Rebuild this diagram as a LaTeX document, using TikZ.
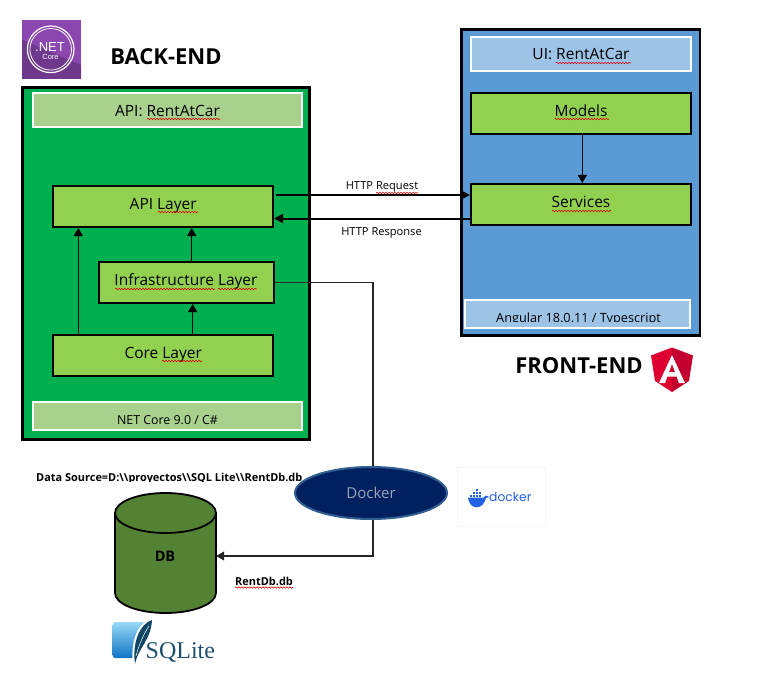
\documentclass[tikz,border=0pt]{standalone}
\usepackage{fontspec}
\setmainfont{Open Sans}
\newfontfamily\logoserif{Liberation Serif}
\newfontfamily\logosans{Liberation Sans}
\newfontfamily\dockerfont{Poppins}
\usetikzlibrary{arrows.meta,decorations.pathmorphing,positioning,calc,shapes.geometric}
\definecolor{bgreen}{HTML}{00B050}
\definecolor{lgreen}{HTML}{92D050}
\definecolor{pgreen}{HTML}{A9D18E}
\definecolor{fblue}{HTML}{5B9BD5}
\definecolor{pblue}{HTML}{9DC3E6}
\definecolor{navy}{HTML}{002060}
\definecolor{dockedge}{HTML}{325F91}
\definecolor{dbgreen}{HTML}{548235}
\definecolor{dockblue}{HTML}{2560E8}
\definecolor{netlight}{HTML}{8B46B0}
\definecolor{netdark}{HTML}{6E388C}
\definecolor{angred}{HTML}{DD0031}
\definecolor{angdark}{HTML}{C3002F}
\definecolor{sqlink}{HTML}{1E506E}
\definecolor{sqtop}{HTML}{97D9F6}
\definecolor{sqbot}{HTML}{0F74C4}
\definecolor{sqfeather}{HTML}{0F4664}
\definecolor{squigred}{HTML}{E00000}
\definecolor{dockertext}{HTML}{9DA6B8}
\tikzset{
  x=1pt,y=-1pt,
  panel/.style={draw=black,line width=2.5pt,inner sep=0pt},
  titlebar/.style={draw=white,line width=2pt,inner sep=0pt,text depth=0pt,font=\fontsize{15.5}{17}\selectfont},
  layerbox/.style={draw=black,line width=2pt,fill=lgreen,inner sep=0pt,text height=11pt,text depth=5pt,font=\fontsize{15.5}{17}\selectfont},
  thick link/.style={line width=2pt,-{Triangle[length=9pt,width=9pt]}},
  mid link/.style={line width=1.2pt,-{Triangle[length=8pt,width=9pt]}},
  squig/.style={draw=squigred,line width=.6pt,decorate,decoration={snake,amplitude=.7pt,segment length=3pt}},
  smalllabel/.style={inner sep=0pt,font=\fontsize{11.1}{13}\selectfont},
  boldlabel/.style={inner sep=0pt,font=\fontsize{10.95}{13}\selectfont\bfseries},
  headline/.style={inner sep=0pt,font=\fontsize{22}{25}\selectfont\bfseries},
}
\begin{document}
\begin{tikzpicture}
\useasboundingbox (0,0) rectangle (782,682);
% back-end
\node[panel,fill=bgreen,minimum width=287pt,minimum height=352pt] (back) at (166,263.4) {};
\node[titlebar,text height=14pt,fill=pgreen,minimum width=269pt,minimum height=34pt] (apititle) at (167.5,110) {API: RentAtCar};
\node[layerbox,minimum width=219.7pt,minimum height=41pt] (api) at (163.2,206.5) {API Layer};
\node[layerbox,minimum width=175pt,minimum height=41pt] (infra) at (186,282.5) {Infrastructure Layer};
\node[layerbox,minimum width=219.7pt,minimum height=41pt] (core) at (163.2,355.5) {Core Layer};
\node[titlebar,text height=16pt,fill=pgreen,minimum width=269pt,minimum height=28pt,font=\fontsize{12.4}{14}\selectfont] (nettitle) at (167.5,416) {NET Core 9.0 / C\#};
% front-end
\node[panel,fill=fblue,minimum width=238.7pt,minimum height=306.4pt] (front) at (580.6,182.5) {};
\node[titlebar,text height=12pt,fill=pblue,minimum width=220pt,minimum height=34pt] (uititle) at (581,54) {UI: RentAtCar};
\node[layerbox,minimum width=220pt,minimum height=41pt] (models) at (581,113.5) {Models};
\node[layerbox,minimum width=220pt,minimum height=41pt] (services) at (581,204.5) {Services};
\node[titlebar,fill=pblue,minimum width=225pt,minimum height=28pt] (angtitle) at (577.5,314) {};
\begin{scope}
\clip (466,301) rectangle (689,321.8);
\node[inner sep=0pt,font=\fontsize{12.7}{14}\selectfont,anchor=base] (angtext) at (578.5,322) {Angular 18.0.11 / Typescript};
\end{scope}
% links inside
\coordinate (leftx) at (78.3,0);
\coordinate (midx) at (191.7,0);
\coordinate (corex) at (192.7,0);
\coordinate (modx) at (582.3,0);
\draw[mid link] (core.north -| leftx) -- (api.south -| leftx);
\draw[mid link] (infra.north -| midx) -- (api.south -| midx);
\draw[mid link] (core.north -| corex) -- (infra.south -| corex);
\draw[mid link] (models.south -| modx) -- (services.north -| modx);
% http
\coordinate (reqy) at (0,195);
\coordinate (resy) at (0,218.5);
\coordinate (reqstart) at (276,195);
\draw[thick link] (reqstart) -- (services.west |- reqy);
\draw[thick link] (services.west |- resy) -- (api.east |- resy);
\node[smalllabel] (reqlab) at (382,187) {HTTP Request};
\node[smalllabel] (reslab) at (381.5,233) {HTTP Response};
% DB
\draw[line width=1.8pt,fill=dbgreen] (115,513) -- (115,593) arc[start angle=180,end angle=360,x radius=50.5pt,y radius=20pt] -- (216,513) arc[start angle=0,end angle=180,x radius=50.5pt,y radius=20pt] -- cycle;
\draw[line width=1.8pt] (115,513) arc[start angle=180,end angle=360,x radius=50.5pt,y radius=20pt];
\node[inner sep=0pt,minimum width=101pt,minimum height=120pt] (db) at (165.5,553) {};
\node[inner sep=0pt,font=\fontsize{14.5}{16}\selectfont\bfseries] (dblab) at (165,556) {DB};
% infra to db through docker
\coordinate (bend2) at (373,556);
\draw[line width=1.1pt,black!85,-{Triangle[length=8pt,width=9pt]}] (infra.east) -| (bend2) -- (db.east |- bend2);
\node[ellipse,draw=dockedge,line width=2pt,fill=navy,text=dockertext,minimum width=152pt,minimum height=52pt,inner sep=0pt,font=\fontsize{15}{17}\selectfont] (docker) at (371,493) {Docker};
% docker logo
\node[draw=black!4,line width=.8pt,fill=white,minimum width=88pt,minimum height=59pt,inner sep=0pt] (dlogo) at (501,496.5) {};
\fill[dockblue] (468,497.5) .. controls (469,510) and (483,511) .. (486,498) .. controls (487,497.5) and (488,497.5) .. (489,497) .. controls (488,495.5) and (486,495.5) .. (485,496) -- (484,497.5) -- cycle;
\foreach \cx/\cy in {470/494.5,473/494.5,476/494.5,479/494.5,473/491.5,476/491.5,479/491.5,476/488.5}{\fill[dockblue] (\cx,\cy) rectangle ++(2.4,2.4);}
\node[inner sep=0pt,text=dockblue,font=\dockerfont\fontsize{12.3}{15}\selectfont,anchor=west] (dtext) at (489,497) {docker};
% texts
\node[headline] (backhead) at (166,57) {BACK-END};
\node[headline] (fronthead) at (579,366) {FRONT-END};
\begin{scope}
\clip (30,465) rectangle (305,481);
\node[boldlabel,anchor=base west] (dsource) at (36,481) {Data Source=D:\textbackslash\textbackslash proyectos\textbackslash\textbackslash SQL Lite\textbackslash\textbackslash RentDb.db};
\end{scope}
\node[boldlabel,anchor=base west] (rentdb) at (235,585) {RentDb.db};
% .NET logo
\fill[netlight] (22,20) rectangle (81,79);
\fill[netdark] (22,40) -- (81,65) -- (81,79) -- (22,79) -- cycle;
\draw[white,line width=1.2pt] (50.7,49.3) circle (23.3);
\draw[white,line width=.8pt] (50.7,49.3) circle (20.8);
\node[inner sep=0pt,text=white,font=\logosans\fontsize{13}{14}\selectfont] (netl) at (50,47.3) {.NET};
\node[inner sep=0pt,text=white,font=\logosans\fontsize{7.5}{8}\selectfont] (corel) at (50.5,56.7) {Core};
% Angular logo
\fill[angred] (672,347.5) -- (651,355.5) -- (655,381) -- (672,392) -- cycle;
\fill[angdark] (672,347.5) -- (693,355.5) -- (689,381) -- (672,392) -- cycle;
\fill[white,even odd rule] (672,355) -- (659,383) -- (665,383) -- (667.5,376.5) -- (676.5,376.5) -- (679,383) -- (685,383) -- cycle (672,364) -- (675,372) -- (669,372) -- cycle;
% SQLite logo
\shade[top color=sqtop,bottom color=sqbot,rounded corners=2.5pt] (112.7,622) -- (146,622) -- (135,658) -- (112.7,658) -- cycle;
\fill[white] (153,618) .. controls (138,622) and (130,640) .. (133,666) -- (138,660) .. controls (146,645) and (153,635) .. (153,618) -- cycle;
\fill[sqfeather] (152,620) .. controls (140,624) and (132,642) .. (135,664) .. controls (138,648) and (151,640) .. (152,620) -- cycle;
\draw[white,line width=.5pt] (149,626) .. controls (143,635) and (139,645) .. (136,656);
\node[inner sep=0pt,text=sqlink,font=\logoserif\fontsize{24}{27}\selectfont,anchor=base west] (sqlt) at (145.5,658.5) {SQLite};
% squiggles
\coordinate (s1a) at (147,119);\coordinate (s1b) at (220,119);
\draw[squig] (s1a) -- (s1b);
\coordinate (s2a) at (158,212);\coordinate (s2b) at (198,212);
\draw[squig] (s2a) -- (s2b);
\coordinate (s3a) at (115,289);\coordinate (s3b) at (215,289);
\draw[squig] (s3a) -- (s3b);
\coordinate (s3c) at (218,289);\coordinate (s3d) at (257,289);
\draw[squig] (s3c) -- (s3d);
\coordinate (s4a) at (162,361);\coordinate (s4b) at (202,361);
\draw[squig] (s4a) -- (s4b);
\coordinate (s5a) at (556,63);\coordinate (s5b) at (631,63);
\draw[squig] (s5a) -- (s5b);
\coordinate (s6a) at (554.5,119);\coordinate (s6b) at (609,119);
\draw[squig] (s6a) -- (s6b);
\coordinate (s7a) at (552,211);\coordinate (s7b) at (611,211);
\draw[squig] (s7a) -- (s7b);
\coordinate (s8a) at (376,193);\coordinate (s8b) at (418,193);
\draw[squig] (s8a) -- (s8b);
\coordinate (s9a) at (235,587.5);\coordinate (s9b) at (293,587.5);
\draw[squig] (s9a) -- (s9b);
\end{tikzpicture}
\end{document}
